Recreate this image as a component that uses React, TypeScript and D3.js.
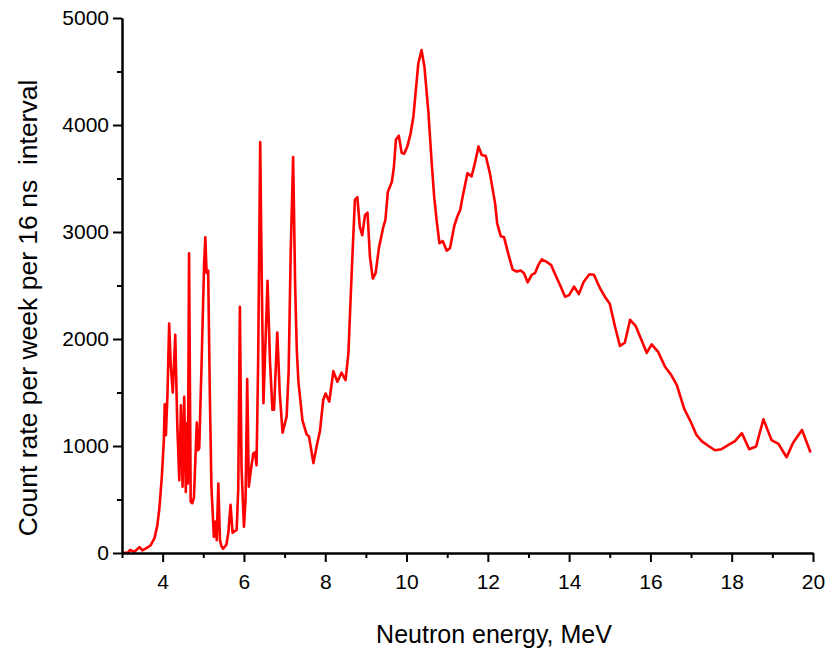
import { useEffect, useRef } from "react";
import * as d3 from "d3";

// neutron energy (MeV) and count rate
const energy = [
  3.0, 3.15, 3.2, 3.3, 3.43, 3.5, 3.6, 3.7, 3.8, 3.87, 3.92, 3.98, 4.03, 4.05, 4.08,
  4.12, 4.16, 4.2, 4.25, 4.31, 4.36, 4.41, 4.45, 4.49, 4.53, 4.57, 4.59, 4.62, 4.65,
  4.69, 4.73, 4.77, 4.84, 4.87, 4.9, 4.96, 5.02, 5.05, 5.08, 5.12, 5.16, 5.2, 5.26,
  5.3, 5.33, 5.37, 5.41, 5.45, 5.49, 5.57, 5.62, 5.67, 5.72, 5.82, 5.86, 5.9, 5.94,
  6.0, 6.04, 6.08, 6.12, 6.18, 6.23, 6.27, 6.31, 6.35, 6.4, 6.44, 6.48, 6.58, 6.64,
  6.7, 6.74, 6.82, 6.88, 6.95, 7.05, 7.1, 7.15, 7.21, 7.26, 7.3, 7.34, 7.44, 7.54,
  7.6, 7.71, 7.79, 7.87, 7.95, 8.01, 8.1, 8.2, 8.3, 8.4, 8.5, 8.57, 8.65, 8.73, 8.79,
  8.85, 8.91, 8.98, 9.04, 9.1, 9.17, 9.24, 9.32, 9.43, 9.48, 9.54, 9.64, 9.69, 9.74,
  9.81, 9.88, 9.94, 10.02, 10.1, 10.17, 10.23, 10.29, 10.37, 10.44, 10.54, 10.62,
  10.68, 10.74, 10.81, 10.89, 10.99, 11.07, 11.17, 11.25, 11.32, 11.38, 11.5, 11.6,
  11.68, 11.77, 11.85, 11.95, 12.05, 12.18, 12.23, 12.32, 12.4, 12.5, 12.61, 12.71,
  12.81, 12.89, 12.98, 13.08, 13.16, 13.24, 13.33, 13.45, 13.56, 13.66, 13.77, 13.9,
  14.0, 14.12, 14.24, 14.36, 14.5, 14.61, 14.76, 14.88, 15.0, 15.13, 15.25, 15.37,
  15.5, 15.64, 15.78, 15.91, 16.03, 16.19, 16.36, 16.51, 16.65, 16.83, 17.0, 17.13,
  17.26, 17.43, 17.59, 17.75, 17.92, 18.08, 18.25, 18.43, 18.6, 18.78, 18.98, 19.15,
  19.35, 19.51, 19.73, 19.94,
];

const counts = [
  0, 5, 30, 10, 55, 25, 45, 70, 140, 260, 420, 715, 1055, 1390, 1100,
  1500, 2145, 1750, 1500, 2040, 1200, 680, 1380, 620, 1460, 570, 1210, 650, 2800,
  480, 465, 520, 1220, 960, 980, 1800, 2700, 2950, 2620, 2640, 1500, 620, 150,
  295, 120, 650, 120, 60, 40, 80, 200, 450, 190, 215, 600, 2300, 800,
  245, 500, 1625, 620, 800, 930, 940, 820, 1800, 3840, 2500, 1400, 2545, 1800,
  1340, 1340, 2060, 1500, 1125, 1275, 1700, 2800, 3700, 2500, 1900, 1600, 1240, 1110,
  1090, 840, 1000, 1140, 1430, 1490, 1415, 1700, 1600, 1685, 1615, 1865, 2615, 3300, 3325,
  3050, 2970, 3160, 3180, 2770, 2565, 2615, 2850, 3050, 3110, 3375, 3470, 3610, 3865,
  3900, 3740, 3730, 3800, 3920, 4080, 4330, 4575, 4700, 4545, 4110, 3640,
  3330, 3110, 2895, 2915, 2825, 2850, 3050, 3145, 3205, 3330, 3550, 3520,
  3640, 3800, 3720, 3710, 3550, 3265, 3080, 2960, 2950, 2800, 2650, 2630,
  2640, 2615, 2530, 2600, 2615, 2690, 2745, 2720, 2690, 2600, 2510, 2395,
  2410, 2490, 2420, 2535, 2605, 2600, 2475, 2395, 2330, 2115, 1935, 1965,
  2180, 2120, 1990, 1870, 1950, 1880, 1740, 1665, 1570, 1350, 1220, 1105,
  1045, 1000, 960, 970, 1010, 1045, 1120, 970, 995, 1250, 1055, 1020,
  895, 1030, 1150, 940,
];

const xMajor = [4, 6, 8, 10, 12, 14, 16, 18, 20];
const xMinor = [3, 5, 7, 9, 11, 13, 15, 17, 19];
const yMajor = [0, 1000, 2000, 3000, 4000, 5000];
const yMinor = [500, 1500, 2500, 3500, 4500];

const xTitle = "Neutron energy, MeV";
const yTitle = "Count rate per week per 16 ns\u00a0 interval";

const W = 825;
const H = 652;
const font = "'Liberation Sans', Arial, sans-serif";

export default function App() {
  const svgRef = useRef<SVGSVGElement>(null);

  useEffect(() => {
    document.body.style.margin = "0";
    const svg = d3.select(svgRef.current);
    svg.selectAll("*").remove();

    const x = d3.scaleLinear().domain([3, 20]).range([122, 813]);
    const y = d3.scaleLinear().domain([0, 5000]).range([553, 18]);

    const data = energy.map((e, i) => ({ e, c: counts[i] }));

    const line = d3
      .line<{ e: number; c: number }>()
      .x((d) => x(d.e))
      .y((d) => y(d.c));

    svg
      .append("path")
      .datum(data)
      .attr("fill", "none")
      .attr("stroke", "#ff0000")
      .attr("stroke-width", 2.6)
      .attr("stroke-linejoin", "round")
      .attr("d", line);

    // x axis: minor then major
    svg
      .append("g")
      .attr("transform", "translate(0,553)")
      .call(d3.axisBottom(x).tickValues(xMinor).tickSize(5).tickSizeOuter(0).tickFormat(() => ""));
    const gx = svg
      .append("g")
      .attr("transform", "translate(0,553)")
      .call(
        d3.axisBottom(x).tickValues(xMajor).tickSize(9).tickSizeOuter(0).tickPadding(12).tickFormat(d3.format("d"))
      );
    gx.selectAll("text").attr("font-size", 21);

    // y axis
    svg
      .append("g")
      .attr("transform", "translate(122,0)")
      .call(d3.axisLeft(y).tickValues(yMinor).tickSize(5).tickSizeOuter(0).tickFormat(() => ""));
    const gy = svg
      .append("g")
      .attr("transform", "translate(122,0)")
      .call(d3.axisLeft(y).tickValues(yMajor).tickSize(9).tickSizeOuter(0).tickPadding(4).tickFormat(d3.format("d")));
    gy.selectAll("text").attr("font-size", 21);

    svg.selectAll("g text").attr("font-family", font).attr("fill", "#000");
    svg.selectAll("g line").attr("stroke", "#000").attr("stroke-width", 2);
    svg.selectAll("path.domain").attr("stroke", "#000").attr("stroke-width", 2);

    svg
      .append("text")
      .attr("x", 494)
      .attr("y", 643)
      .attr("text-anchor", "middle")
      .attr("font-family", font)
      .attr("font-size", 25)
      .text(xTitle);

    svg
      .append("text")
      .attr("transform", "translate(37,308) rotate(-90)")
      .attr("text-anchor", "middle")
      .attr("font-family", font)
      .attr("font-size", 26.5)
      .text(yTitle);
  }, []);

  return <svg ref={svgRef} width={W} height={H} style={{ display: "block", background: "#fff" }} />;
}
